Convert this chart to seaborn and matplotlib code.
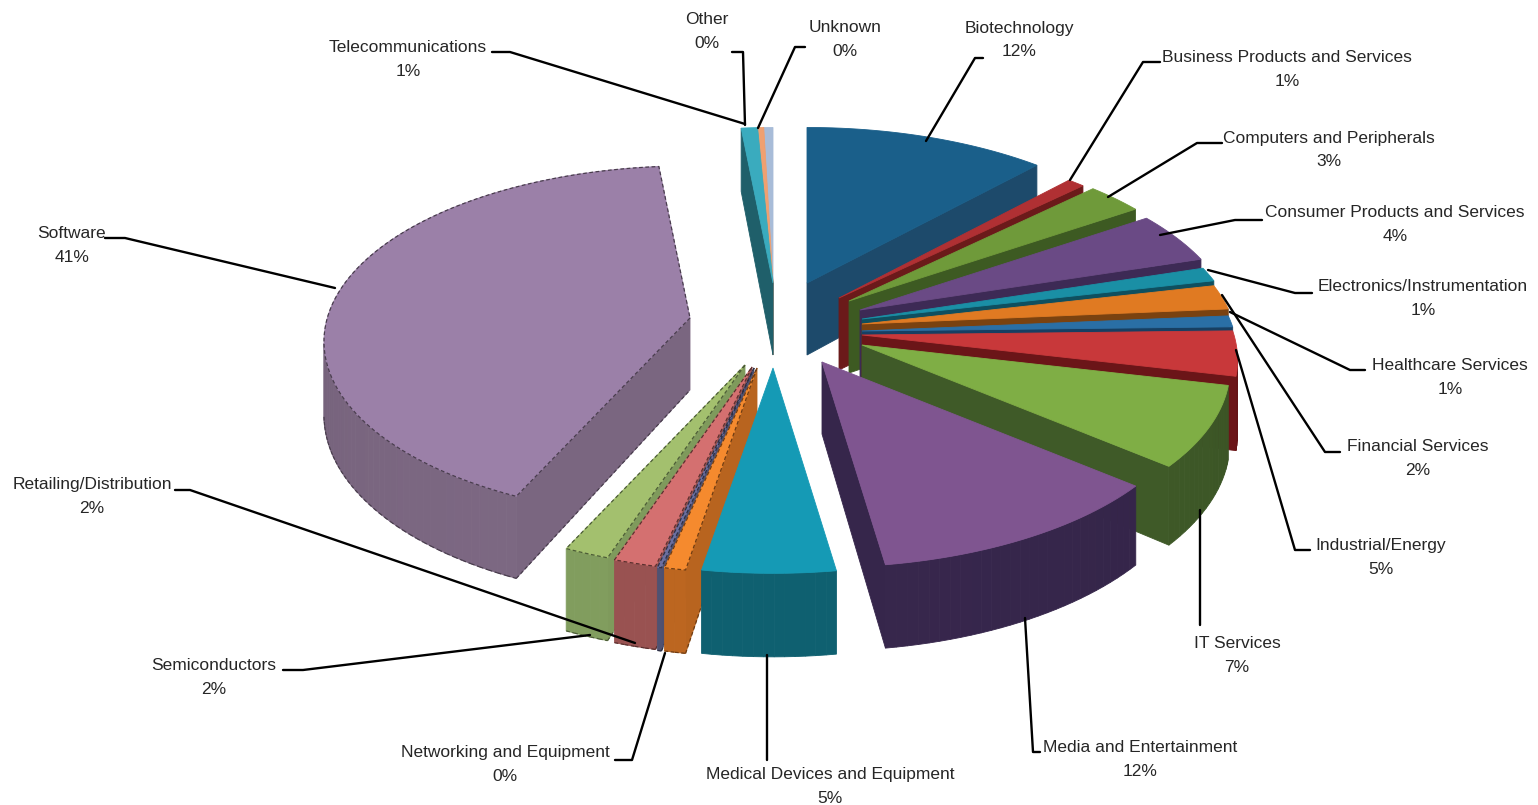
import numpy as np
import matplotlib
matplotlib.use("Agg")
import matplotlib.pyplot as plt
import seaborn as sns

# ---- data -----------------------------------------------------------------
names = ["Biotechnology", "Business Products and Services", "Computers and Peripherals",
         "Consumer Products and Services", "Electronics/Instrumentation", "Financial Services",
         "Healthcare Services", "Industrial/Energy", "IT Services", "Media and Entertainment",
         "Medical Devices and Equipment", "Networking and Equipment", "", "Retailing/Distribution",
         "Semiconductors", "Software", "Telecommunications", "Other", "Unknown"]
shares = [11.9, 0.85, 2.8, 4.6, 1.25, 2.2, 1.0, 4.0, 7.4, 11.6, 5.0, 0.8, 0.15, 1.6, 1.7, 41.5, 0.8, 0.3, 0.45]
percent_text = ["12%", "1%", "3%", "4%", "1%", "2%", "1%", "5%", "7%", "12%", "5%", "0%", "", "2%", "2%", "41%", "1%", "0%", "0%"]

# ---- styles ---------------------------------------------------------------
top_colors = ["#1a5f8a", "#b03033", "#6f9a3a", "#6a4a85", "#1a8fa5", "#e07a22", "#2a6fa5",
              "#c8383a", "#7fae45", "#7f5590", "#159ab5", "#f58a2e", "#6b6fa0", "#d47070",
              "#a3c06e", "#9b80a8", "#3aabbe", "#f0a070", "#a8bcd8"]
wall_colors = ["#1d4a6b", "#6b1a1a", "#3d5a22", "#3d2a55", "#0f4f5f", "#7a4210", "#173f62",
               "#6b1518", "#3f5a28", "#36264b", "#0f5e6e", "#b8641f", "#4d5070", "#96504f",
               "#7f9a5c", "#7a6680", "#1f5f6a", "#7a5030", "#4d5a66"]
apex_x = [807, 839, 849, 860, 862, 862, 862, 862, 862, 822, 773, 757, 754, 752, 745, 690, 773, 773, 773]
apex_y = [283, 298, 301, 310, 319, 324, 331, 335, 345, 362, 368, 368, 368, 367, 365, 318, 283, 283, 283]
radial_scale = [1, 1, 1, 1, 1, 1, 1, 1, 0.98, 1, 1, 1, 1, 1, 1, 0.975, 1, 1, 1]
draw_order = [18, 17, 16, 0, 1, 2, 3, 4, 5, 6, 7, 8, 15, 14, 13, 12, 11, 10, 9]
dashed = {11, 12, 13, 14, 15}
RX, RY, PERSP, DEPTH = 372.0, 177.0, 0.138, 72.0
FONT_SIZE = 12.5

label_xy = {0: (1019, 40), 1: (1287, 70), 2: (1329, 150), 3: (1395, 224), 4: (1423, 298),
            5: (1418, 458), 6: (1450, 377), 7: (1381, 557), 8: (1237, 655), 9: (1140, 759),
            10: (830, 786), 11: (505, 764), 13: (92, 496), 14: (214, 677), 15: (72, 245),
            16: (408, 60), 17: (707, 32), 18: (845, 40)}
leaders = {0: [(983, 58), (975, 58), (926, 141)], 1: [(1160, 62), (1143, 62), (1070, 180)],
           2: [(1222, 143), (1197, 143), (1108, 197)], 3: [(1262, 220), (1235, 220), (1160, 235)],
           4: [(1312, 293), (1295, 293), (1208, 270)], 5: [(1340, 452), (1325, 452), (1222, 295)],
           6: [(1365, 370), (1350, 370), (1230, 312)], 7: [(1310, 550), (1295, 550), (1236, 350)],
           8: [(1200, 625), (1200, 510)], 9: [(1040, 752), (1033, 752), (1025, 618)],
           10: [(767, 760), (767, 655)], 11: [(615, 760), (632, 760), (665, 653)],
           13: [(175, 490), (190, 490), (635, 643)], 14: [(283, 670), (303, 670), (590, 635)],
           15: [(105, 238), (125, 238), (335, 288)], 16: [(492, 52), (510, 52), (745, 124)],
           17: [(732, 52), (743, 52), (745, 125)], 18: [(805, 47), (795, 47), (758, 128)]}

sns.set_theme(style="white")
plt.rcParams["font.family"] = ["Liberation Sans", "DejaVu Sans"]

fig = plt.figure(figsize=(15.38, 8.05), dpi=100, facecolor="white")
ax = fig.add_axes([0, 0, 1, 1])
ax.set_xlim(0, 1538)
ax.set_ylim(805, 0)
ax.axis("off")


def shade(color, f):
    rgb = np.array(matplotlib.colors.to_rgb(color)) * f
    return tuple(np.clip(rgb, 0, 1))


def boundary(i, a0, a1):
    """Top and bottom outline of a wedge, clockwise on screen."""
    n = max(2, int(np.degrees(a1 - a0) / 1.5) + 2)
    th = np.linspace(a0, a1, n)
    r = radial_scale[i]
    x, y = np.sin(th) * r, -np.cos(th) * r
    w = 1.0 / (1.0 - PERSP * y)
    X = apex_x[i] + x * RX * w
    Y = apex_y[i] + y * RY * w
    top = np.vstack([[apex_x[i], apex_y[i]], np.column_stack([X, Y])])
    bot = top.copy()
    bot[0, 1] += DEPTH
    bot[1:, 1] += DEPTH * w
    mids = np.r_[np.nan, (th[:-1] + th[1:]) / 2, np.nan]
    return top, bot, mids


def area(q):
    x, y = q[:, 0], q[:, 1]
    return np.sum(x * np.roll(y, -1) - np.roll(x, -1) * y)


edges = np.cumsum([0] + shares) / np.sum(shares) * 2 * np.pi

z = 2
for i in draw_order:
    top, bot, mids = boundary(i, edges[i], edges[i + 1])
    m = len(top)
    dark = shade(wall_colors[i], 0.6)
    for k in range(m):
        k2 = (k + 1) % m
        q = np.array([top[k], top[k2], bot[k2], bot[k]])
        if area(q) >= 0:
            continue
        is_arc = 1 <= k < m - 1
        f = 0.94 + 0.08 * np.cos(mids[k] - np.radians(190)) if is_arc else 1.0
        c = shade(wall_colors[i], f)
        ax.fill(q[:, 0], q[:, 1], facecolor=c, edgecolor=c, lw=0.6, zorder=z)
        if i in dashed:
            ax.plot(q[2:, 0], q[2:, 1], color=dark, lw=0.9, ls=(0, (3, 2)), zorder=z + 1)
    z += 1
    ax.fill(top[:, 0], top[:, 1], facecolor=top_colors[i], edgecolor=top_colors[i], lw=0.6, zorder=z + 1)
    if i in dashed:
        ax.plot(np.r_[top[:, 0], top[0, 0]], np.r_[top[:, 1], top[0, 1]], color=dark, lw=0.9,
                ls=(0, (3, 2)), zorder=z + 2)
    z += 3

for i, pts in leaders.items():
    p = np.array(pts)
    ax.plot(p[:, 0], p[:, 1], color="black", lw=1.7, zorder=500, solid_capstyle="round")

for i, (x, y) in label_xy.items():
    ax.text(x, y - 12, names[i], ha="center", va="center", fontsize=FONT_SIZE, color="#262626", zorder=600)
    ax.text(x, y + 12, percent_text[i], ha="center", va="center", fontsize=FONT_SIZE, color="#262626", zorder=600)

fig.savefig("out.png", dpi=100, facecolor="white")
